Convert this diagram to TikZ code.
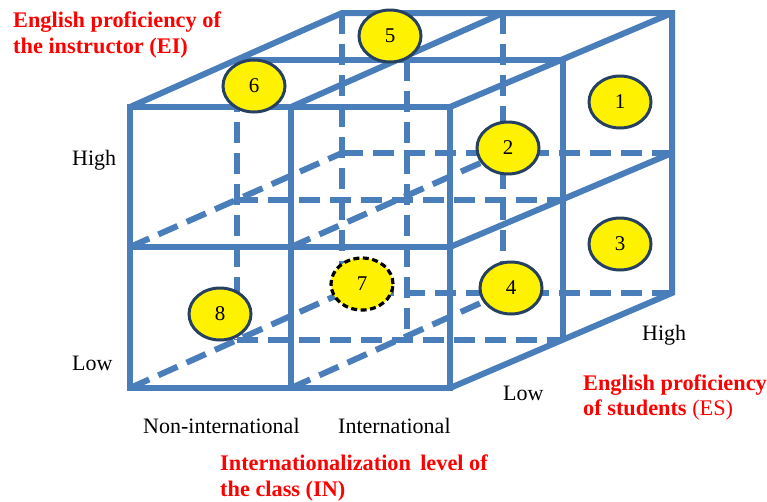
\documentclass[tikz,border=0pt]{standalone}
\usepackage{fontspec}
\setmainfont{Liberation Serif}
\usetikzlibrary{shapes.geometric}
\definecolor{edgeblue}{RGB}{74,126,187}
\definecolor{ringnavy}{RGB}{37,64,97}
\definecolor{labelred}{RGB}{255,0,0}
\begin{document}
\begin{tikzpicture}[x=1pt,y=-1pt,
  edge/.style={draw=edgeblue, line width=6pt, line cap=butt, line join=miter},
  hidden/.style={edge, dash pattern=on 21pt off 10pt},
  cell/.style={ellipse, draw=ringnavy, line width=3pt, fill=yellow,
    minimum width=62pt, minimum height=52pt, inner sep=0pt,
    font=\fontsize{21}{24}\selectfont},
  guess/.style={cell, draw=black, line width=3.2pt, dash pattern=on 6pt off 3.5pt},
  axislabel/.style={inner sep=0pt, font=\fontsize{22}{25}\selectfont},
  titlelabel/.style={inner sep=0pt, text=labelred, font=\fontsize{22.3}{25}\selectfont\bfseries}
]
\useasboundingbox (0,0) rectangle (767,501);
% front layer
\coordinate (fLT) at (130,107); \coordinate (fMT) at (291,107); \coordinate (fRT) at (450,107);
\coordinate (fLC) at (130,247); \coordinate (fMC) at (291,247); \coordinate (fRC) at (450,247);
\coordinate (fLB) at (130,388); \coordinate (fMB) at (291,388); \coordinate (fRB) at (450,388);
% middle layer
\coordinate (mLT) at (237,60); \coordinate (mMT) at (407,60); \coordinate (mRT) at (563,60);
\coordinate (mLC) at (237,200); \coordinate (mMC) at (407,200); \coordinate (mRC) at (563,200);
\coordinate (mLB) at (237,340); \coordinate (mMB) at (407,340); \coordinate (mRB) at (563,340);
% back layer
\coordinate (bLT) at (342,13); \coordinate (bMT) at (503,13); \coordinate (bRT) at (672,13);
\coordinate (bLC) at (342,153); \coordinate (bMC) at (503,153); \coordinate (bRC) at (672,153);
\coordinate (bLB) at (342,293); \coordinate (bMB) at (503,293); \coordinate (bRB) at (672,293);

% hidden lines
\draw[hidden] (bLT) -- (bLB);
\draw[hidden] (bMT) -- (bMB);
\draw[hidden] (bLC) -- (bRC);
\draw[hidden] (bLB) -- (bRB);
\draw[hidden] (mLT) -- (mLB);
\draw[hidden] (mMT) -- (mMB);
\draw[hidden] (mLC) -- (mRC);
\draw[hidden] (mLB) -- (mRB);
\draw[hidden] (fLC) -- (bLC);
\draw[hidden] (fMC) -- (bMC);
\draw[hidden] (fLB) -- (bLB);
\draw[hidden] (fMB) -- (bMB);

% visible lines
\draw[edge] (fLT) rectangle (fRB);
\draw[edge] (fMT) -- (fMB);
\draw[edge] (fLC) -- (fRC);
\draw[edge] (fLT) -- (bLT) -- (bRT) -- (bRB) -- (fRB);
\draw[edge] (fMT) -- (bMT);
\draw[edge] (fRT) -- (bRT);
\draw[edge] (mLT) -- (mRT) -- (mRB);
\draw[edge] (fRC) -- (bRC);

% cells
\node[cell] (c1) at (620,102) {1};
\node[cell] (c2) at (508,148) {2};
\node[cell] (c3) at (620,244) {3};
\node[cell] (c4) at (511,288) {4};
\node[cell] (c5) at (390,36) {5};
\node[cell] (c6) at (254,86) {6};
\node[guess] (c7) at (362,284) {7};
\node[cell] (c8) at (220,314) {8};

% labels
\node[titlelabel, anchor=base west] (ei1) at (13,27) {English proficiency of};
\node[titlelabel, anchor=base west] (ei2) at (13,53) {the instructor (EI)};
\node[axislabel, anchor=base west] (eihigh) at (72,165) {High};
\node[axislabel, anchor=base west] (eilow) at (72,370) {Low};
\node[axislabel, anchor=base west] (innon) at (143,433) {Non-international};
\node[axislabel, anchor=base west] (inint) at (338,433) {International};
\node[titlelabel, anchor=base west] (in1) at (220,470) {Internationalization\, level of};
\node[titlelabel, anchor=base west] (in2) at (220,496) {the class (IN)};
\node[axislabel, anchor=base west] (eshigh) at (642,340) {High};
\node[axislabel, anchor=base west] (eslow) at (503,400) {Low};
\node[titlelabel, anchor=base west] (es1) at (583,390) {English proficiency};
\node[titlelabel, anchor=base west] (es2) at (583,415) {of students \mdseries(ES)};
\end{tikzpicture}
\end{document}
